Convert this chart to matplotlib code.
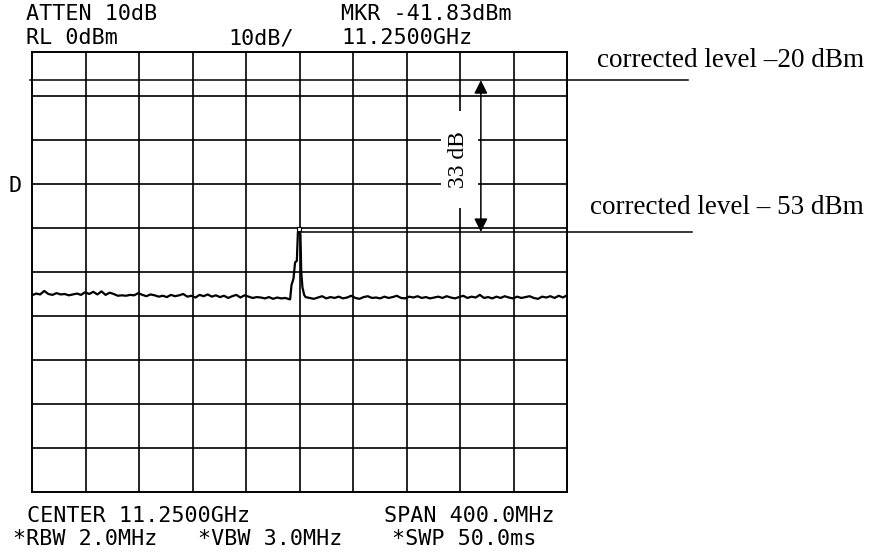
import numpy as np
import matplotlib.pyplot as plt
from matplotlib.patches import Rectangle

# Spectrum analyser display: 11.05 - 11.45 GHz, 0 dBm ref, 10 dB/div
f_start, f_stop = 11.05, 11.45
ref_level, db_per_div = 0, 10

left_noise = [-55.3, -54.9, -55.1, -54.3, -55.0, -55.2, -54.8, -55.1, -55.0, -55.3, -55.1, -54.9,
              -55.2, -54.6, -55.0, -54.5, -55.1, -54.4, -55.2, -54.7, -55.0, -55.4, -55.3, -55.4,
              -55.2, -55.3, -54.8, -55.2, -55.5, -55.1, -55.3, -55.6, -55.4, -55.7, -55.2, -55.5,
              -55.3, -55.0, -55.6, -55.4, -55.8, -55.2, -55.5, -55.1, -55.6, -55.3, -55.7, -55.4,
              -55.9, -55.5, -55.2, -55.8, -55.3, -55.6, -55.9, -55.7, -55.8, -56.0, -55.7, -56.1,
              -55.8, -56.0, -55.9, -56.2]
right_noise = [-55.7, -55.9, -56.1, -55.8, -55.5, -56.0, -55.7, -55.9, -55.6, -56.0, -55.8, -55.4,
               -55.9, -56.1, -55.7, -55.5, -55.9, -55.8, -56.0, -55.6, -55.9, -55.7, -55.4, -55.9,
               -56.0, -55.6, -55.8, -55.5, -55.9, -55.7, -56.0, -55.8, -55.6, -55.9, -55.5, -55.8,
               -56.0, -55.7, -55.4, -55.9, -55.6, -55.8, -55.2, -55.9, -55.7, -56.0, -55.6, -55.9,
               -55.5, -55.8, -56.0, -55.6, -55.9, -55.7, -55.5, -55.9, -56.1, -55.6, -55.8, -55.5,
               -55.9, -55.4, -55.8, -55.3]
peak_freq = [11.2430, 11.2440, 11.2455, 11.2467, 11.2480, 11.2488, 11.2494, 11.2500,
             11.2507, 11.2513, 11.2522, 11.2535]
peak_level = [-56.2, -53.0, -51.5, -47.8, -47.5, -41.0, -40.2, -40.3, -41.5, -50.0, -53.5, -55.2]

marker_freq, marker_level = 11.2497, -40.2
upper_line = -6.4    # corrected level -20 dBm
lower_line = -40.9   # corrected level -53 dBm

freq = np.concatenate([np.linspace(f_start, 11.2425, len(left_noise)), peak_freq,
                       np.linspace(11.2545, f_stop, len(right_noise))])
level = np.concatenate([left_noise, peak_level, right_noise])

W, H = 871, 552
fig = plt.figure(figsize=(W / 100, H / 100), dpi=100)
ax = fig.add_axes([32 / W, 1 - 492 / H, 535 / W, 440 / H])
ax.set_xlim(f_start, f_stop)
ax.set_ylim(ref_level - 10 * db_per_div, ref_level)
ax.set_xticks([])
ax.set_yticks([])
for s in ax.spines.values():
    s.set_linewidth(1.4)

for fx in np.linspace(f_start, f_stop, 11)[1:-1]:
    ax.axvline(fx, color='black', lw=1.2, zorder=1)
for ly in range(-90, 0, 10):
    ax.axhline(ly, color='black', lw=1.2, zorder=1)

ax.plot(freq, level, color='black', lw=1.6, zorder=3)
ax.plot(marker_freq, marker_level, marker='s', ms=3, mfc='white', mec='black', mew=0.8, zorder=4)

# annotation lines reaching out of the screen
ax.plot([-0.004, 1.226], [upper_line, upper_line], color='black', lw=1.1,
        transform=ax.get_yaxis_transform(), clip_on=False, zorder=3)
ax.plot([0.503, 1.234], [lower_line, lower_line], color='black', lw=1.1,
        transform=ax.get_yaxis_transform(), clip_on=False, zorder=3)

# white patch behind the "33 dB" label
ax.add_patch(Rectangle((0.7645, 0.645), 0.069, 0.222, transform=ax.transAxes,
                       facecolor='white', edgecolor='none', zorder=2))
ax.text(0.797, -24.5, '33 dB', rotation=90, ha='center', va='center',
        family='Liberation Serif', fontsize=17, transform=ax.get_yaxis_transform(), zorder=5)
ax.annotate('', xy=(0.839, upper_line), xytext=(0.839, lower_line),
            xycoords=ax.get_yaxis_transform(),
            arrowprops=dict(arrowstyle='<|-|>', color='black', lw=1.1, mutation_scale=20,
                            shrinkA=0, shrinkB=0), zorder=5)

serif = dict(family='Liberation Serif', fontsize=19.5, ha='right', va='baseline')
fig.text(864 / W, 1 - 67 / H, 'corrected level \u201320 dBm', **serif)
fig.text(864 / W, 1 - 214 / H, 'corrected level \u2013 53 dBm', **serif)

mono = dict(family='DejaVu Sans Mono', fontsize=15.7, va='baseline')
fig.text(26 / W, 1 - 20 / H, 'ATTEN 10dB', **mono)
fig.text(26 / W, 1 - 44 / H, 'RL 0dBm', **mono)
fig.text(228 / W, 1 - 44 / H, '10dB/', **mono)
fig.text(341 / W, 1 - 20 / H, 'MKR -41.83dBm', **mono)
fig.text(341 / W, 1 - 44 / H, '11.2500GHz', **mono)
fig.text(8 / W, 1 - 192 / H, 'D', **mono)
fig.text(27 / W, 1 - 522 / H, 'CENTER 11.2500GHz', **mono)
fig.text(384 / W, 1 - 522 / H, 'SPAN 400.0MHz', **mono)
fig.text(13 / W, 1 - 545 / H, '*RBW 2.0MHz', **mono)
fig.text(198 / W, 1 - 545 / H, '*VBW 3.0MHz', **mono)
fig.text(392 / W, 1 - 545 / H, '*SWP 50.0ms', **mono)

fig.savefig('out.png', dpi=100)
